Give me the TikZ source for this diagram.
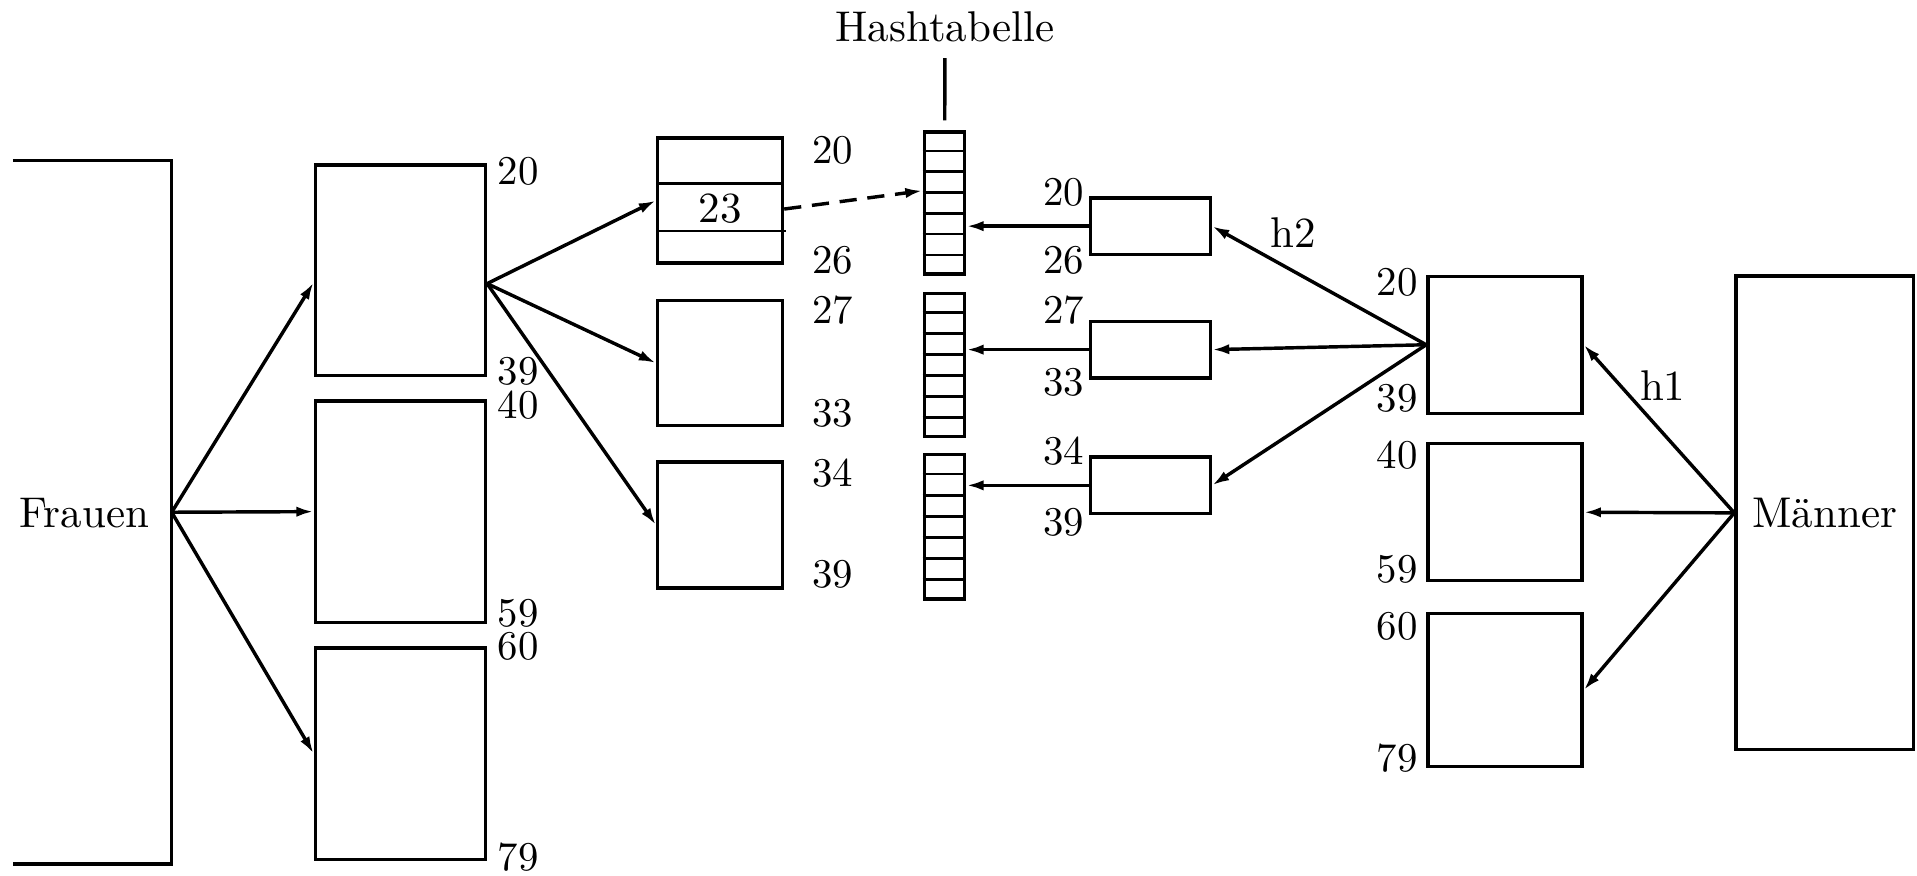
\documentclass[tikz,border=0pt]{standalone}
\usetikzlibrary{arrows.meta,calc}

\begin{document}
\begin{tikzpicture}[x = 0.01cm, y = -0.01cm, thick, >={Latex[length=4pt, width=2.4pt]},
    blk/.style = {draw, rectangle, inner sep = 0pt},
    num/.style = {font = \fontsize{9.5pt}{11pt}\selectfont, inner sep = 0pt},
    cell/.style = {semithick}]
    \useasboundingbox (0, 0) rectangle (1568, 716);

    % Frauen (left side open)
    \node [rectangle, minimum width = 1.27cm, minimum height = 5.72cm] (frauen) at (75.5, 419) {};
    \draw (frauen.north west) -- (frauen.north east) -- (frauen.south east) -- (frauen.south west);
    \node (frauenlbl) at (69, 420) {Frauen};

    \node [blk, minimum width = 1.39cm, minimum height = 1.72cm] (f1) at (327.5, 221) {};
    \node [blk, minimum width = 1.39cm, minimum height = 1.81cm] (f2) at (327.5, 418.5) {};
    \node [blk, minimum width = 1.39cm, minimum height = 1.73cm] (f3) at (327.5, 616.5) {};
    \coordinate (f1in) at ($(f1.west) + (0, 10)$);
    \coordinate (f1out) at ($(f1.east) + (0, 11)$);

    \node [blk, minimum width = 1.02cm, minimum height = 1.02cm] (g1) at (589, 164) {};
    \node [blk, minimum width = 1.02cm, minimum height = 1.02cm] (g2) at (589, 297) {};
    \node [blk, minimum width = 1.02cm, minimum height = 1.03cm] (g3) at (589, 429.5) {};
    \node [minimum width = 1.02cm, inner sep = 0pt] (c23) at (589, 171) {23};
    \draw [semithick] (538, 150) -- (640, 150);
    \draw [thin] (538, 189) -- (643, 189);

    % hash tables, 7 cells each
    \node [blk, minimum width = 0.33cm, minimum height = 1.16cm] (ht1) at (772.5, 166) {};
    \node [blk, minimum width = 0.33cm, minimum height = 1.17cm] (ht2) at (772.5, 298.5) {};
    \node [blk, minimum width = 0.33cm, minimum height = 1.18cm] (ht3) at (772.5, 431) {};
    \foreach \t in {1, 2, 3}
        \foreach \k in {1, ..., 6}
            \draw [cell] ($(ht\t.north west)!\k/7!(ht\t.south west)$) -- ($(ht\t.north east)!\k/7!(ht\t.south east)$);
    \node (htlbl) at (773, 22) {Hashtabelle};
    \draw [shorten > = 0.8mm] (htlbl) -- (ht1);

    \node [blk, minimum width = 0.98cm, minimum height = 0.46cm] (r1) at (941, 185) {};
    \node [blk, minimum width = 0.98cm, minimum height = 0.46cm] (r2) at (941, 286) {};
    \node [blk, minimum width = 0.98cm, minimum height = 0.46cm] (r3) at (941, 397) {};

    \node [blk, minimum width = 1.26cm, minimum height = 1.12cm] (m1) at (1231, 282) {};
    \node [blk, minimum width = 1.26cm, minimum height = 1.12cm] (m2) at (1231, 419) {};
    \node [blk, minimum width = 1.26cm, minimum height = 1.25cm] (m3) at (1231, 564.5) {};
    \node [blk, minimum width = 1.45cm, minimum height = 3.87cm] (maenner) at (1492.5, 419.5) {M\"anner};

    % range limits
    \foreach \n/\x/\y [count = \i] in {20/424/140, 39/424/304, 40/424/331, 59/424/502, 60/424/529, 79/424/701,
            20/681/123, 26/681/213, 27/681/254, 33/681/338, 34/681/387, 39/681/470,
            20/870/157, 26/870/213, 27/870/254, 33/870/313, 34/870/369, 39/870/427,
            20/1143/231, 39/1143/326, 40/1143/372, 59/1143/466, 60/1143/512, 79/1143/620}
        \node [num] (num\i) at (\x, \y) {\n};

    \draw [->] (frauen.east) -- (f1in);
    \draw [->] (frauen.east) -- (f2.west);
    \draw [->] (frauen.east) -- (f3.west);

    \draw [->] (f1out) -- (g1.west);
    \draw [->] (f1out) -- (g2.west);
    \draw [->] (f1out) -- (g3.west);

    \draw [->, dash pattern = on 4pt off 2.5pt] (c23.east) -- ($(ht1.west) + (0, -10)$);

    \draw [->] (r1.west) -- (r1.west -| ht1.east);
    \draw [->] (r2.west) -- (r2.west -| ht2.east);
    \draw [->] (r3.west) -- (r3.west -| ht3.east);

    \draw [->] (m1.west) -- (r1.east);
    \draw [->] (m1.west) -- (r2.east);
    \draw [->] (m1.west) -- (r3.east);
    \node (h2) at (1058, 190) {h2};

    \draw [->] (maenner.west) -- (m1.east);
    \draw [->] (maenner.west) -- (m2.east);
    \draw [->] (maenner.west) -- (m3.east);
    \node (h1) at (1360, 315) {h1};
\end{tikzpicture}
\end{document}
